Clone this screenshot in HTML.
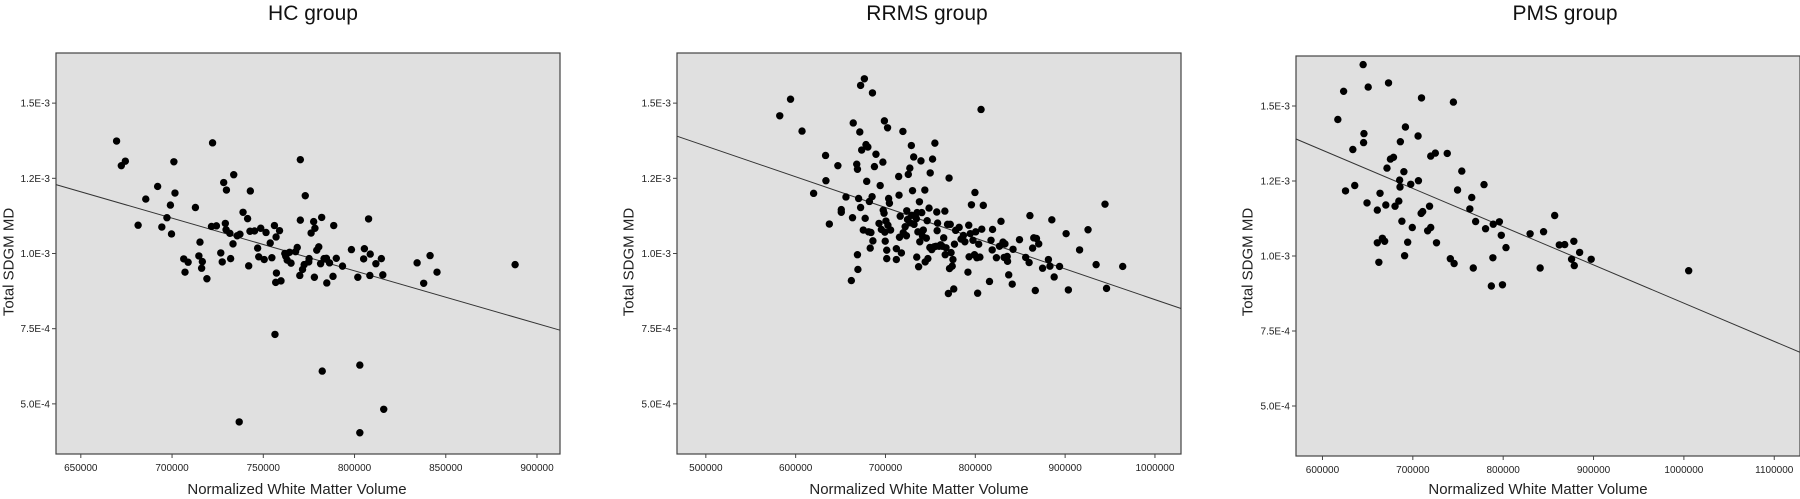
<!DOCTYPE html>
<html><head><meta charset="utf-8"><style>
html,body{margin:0;padding:0;background:#fff;}
svg{display:block;font-family:"Liberation Sans",sans-serif;}
</style></head><body>
<svg id="chart" width="1800" height="499" viewBox="0 0 1800 499" xmlns="http://www.w3.org/2000/svg"></svg>
<script>
// y values in units of 1e-4, x values in thousands
const yTickValues = [15, 12.5, 10, 7.5, 5];
const yTickLabels = ["1.5E-3", "1.2E-3", "1.0E-3", "7.5E-4", "5.0E-4"];
const titles = ["HC group", "RRMS group", "PMS group"];
const hcTicks = [650, 700, 750, 800, 850, 900];
const rrmsTicks = [500, 600, 700, 800, 900, 1000];
const pmsTicks = [600, 700, 800, 900, 1000, 1100];

const hcX = [669.6,672.2,674.4,681.4,685.6,692.1,694.4,697.2,699.1,699.7,701.0,701.6,706.4,707.1,708.8,712.8,714.7,715.3,716.2,716.6,719.1,721.6,722.2,724.3,726.7,727.5,728.3,729.2,729.6,729.8,731.7,732.1,733.4,733.8,735.7,736.8,737.2,738.9,741.4,742.0,742.9,742.7,745.2,746.9,747.5,748.6,750.5,751.5,753.8,754.7,756.1,756.4,757.0,757.2,756.8,758.9,759.7,761.8,762.3,763.1,764.4,765.2,767.7,768.6,770.0,770.3,770.3,771.5,772.4,773.0,774.9,775.1,776.2,777.6,778.0,778.3,779.3,780.4,781.4,782.0,782.3,783.3,784.6,784.8,786.3,788.2,788.6,790.0,793.4,798.3,801.8,802.9,802.9,805.0,805.4,807.7,808.4,808.6,811.7,814.7,815.5,816.0,834.3,837.9,841.4,845.2,888.0];
const hcY = [13.74,12.92,13.07,10.94,11.81,12.23,10.88,11.19,11.61,10.65,13.05,12.01,9.82,9.38,9.71,11.53,9.92,10.38,9.51,9.73,9.16,10.90,13.68,10.92,10.02,9.72,12.36,11.0,10.79,12.11,10.67,9.83,10.32,12.62,10.59,4.40,10.64,11.37,11.16,9.59,12.08,10.74,10.75,10.18,9.89,10.84,9.80,10.70,10.35,9.86,10.93,7.31,10.55,9.35,9.04,10.76,9.09,10.0,9.91,9.78,10.04,9.68,10.06,10.20,9.27,11.11,13.12,9.47,9.63,11.92,9.72,9.83,10.68,11.06,9.21,10.84,10.11,10.22,9.66,11.20,6.09,9.83,9.84,9.02,9.69,9.24,10.93,9.84,9.58,10.13,9.21,6.29,4.04,9.82,10.16,11.15,9.27,9.98,9.66,9.83,9.29,4.82,9.69,9.01,9.93,9.38,9.63];

const rrmsX = [582.3,594.3,607.1,620.0,633.3,633.7,637.5,647.0,650.8,650.8,656.0,662.0,663.3,664.1,668.0,668.8,668.8,669.3,670.1,671.4,672.3,672.3,673.5,675.3,676.5,677.4,678.3,679.1,680.4,681.2,682.1,683.0,683.8,685.1,685.5,686.0,687.7,689.4,692.8,694.1,695.4,697.1,697.5,698.4,698.8,699.3,699.7,700.5,701.4,701.4,702.3,702.7,703.5,704.4,705.7,712.1,712.1,714.7,715.1,715.6,716.4,717.7,719.4,719.8,721.9,723.3,723.7,724.5,725.4,727.1,727.5,728.8,729.2,730.1,731.4,731.8,734.4,734.8,735.2,736.1,736.9,737.8,738.2,739.5,740.4,741.2,742.1,743.8,744.2,745.5,746.4,747.2,748.5,749.4,749.8,751.5,752.4,754.1,755.0,756.2,757.1,757.5,758.0,759.7,761.4,763.1,764.8,766.1,766.5,767.4,769.1,770.0,770.8,771.3,772.1,773.0,774.3,775.1,776.0,776.8,778.1,782.0,784.1,786.7,788.4,791.8,792.7,793.1,794.4,795.7,797.4,799.1,799.6,800.4,801.7,802.6,803.8,805.1,806.4,807.2,808.9,815.8,817.5,818.8,819.2,823.5,826.9,828.6,830.8,832.1,833.0,835.5,835.9,837.2,841.1,842.0,849.2,856.1,859.9,860.8,863.8,865.1,866.8,868.1,870.6,874.9,881.4,883.1,885.2,887.8,893.8,901.1,903.6,916.1,925.5,934.5,944.4,946.1,964.1];
const rrmsY = [14.58,15.13,14.07,12.0,13.26,12.42,10.98,12.92,11.46,11.37,11.88,9.10,11.19,14.34,12.97,12.80,9.96,9.47,11.83,14.04,15.59,11.53,13.44,10.78,15.81,11.17,13.62,12.40,13.54,10.72,11.73,10.18,10.70,11.89,15.34,10.42,12.89,13.30,11.0,12.26,10.8,13.04,11.44,11.34,14.41,10.71,10.41,11.08,10.11,9.83,14.18,10.94,11.83,11.67,10.78,10.16,9.80,12.56,11.94,10.54,11.24,10.02,14.06,10.69,10.89,10.59,11.42,11.13,12.63,12.84,11.02,13.59,11.27,12.09,13.21,10.97,11.16,9.88,11.36,10.72,9.56,11.72,10.39,13.08,11.36,10.58,10.78,12.11,9.72,10.51,11.09,9.83,11.51,10.2,12.68,10.13,13.14,10.22,13.67,10.24,11.38,10.76,11.01,10.24,10.29,10.24,10.52,11.41,9.96,10.19,10.97,8.67,12.51,9.5,10.97,10.03,9.58,9.80,8.82,10.31,10.77,10.87,10.48,10.6,10.39,9.38,10.94,9.89,10.66,11.62,10.44,9.96,12.03,10.72,9.86,8.68,10.31,9.88,14.79,10.81,11.6,9.07,10.44,10.12,10.8,9.86,10.24,11.07,10.38,9.87,10.32,9.9,9.74,9.29,8.98,10.14,10.46,9.87,9.70,11.26,10.18,10.52,8.77,10.5,10.32,9.51,9.8,9.58,11.12,9.22,9.57,10.66,8.79,10.12,10.79,9.63,11.64,8.84,9.57];

const pmsX = [617.0,623.4,625.5,633.6,635.7,645.0,645.5,645.9,649.3,650.6,660.7,660.7,662.4,663.7,666.3,668.8,670.1,671.4,673.1,675.2,678.6,680.3,684.5,685.4,685.8,686.2,687.9,690.1,690.9,691.8,694.3,697.7,699.4,705.8,706.2,709.2,709.6,710.9,716.4,718.5,719.8,719.8,724.9,726.2,738.1,741.5,744.9,745.7,749.5,754.2,763.1,765.2,766.9,769.5,778.8,780.5,786.9,788.6,789.0,795.8,797.9,799.2,803.1,829.8,840.9,844.7,857.0,862.1,868.1,875.7,878.2,878.7,884.6,897.4,1005.3];
const pmsY = [14.55,15.49,12.17,13.55,12.35,16.38,13.78,14.08,11.77,15.63,11.53,10.44,9.79,12.09,10.59,10.49,11.70,12.93,15.77,13.23,13.29,11.66,11.83,12.53,12.30,13.81,11.16,12.81,10.01,14.30,10.46,12.39,10.95,14.0,12.51,11.42,15.27,11.48,10.84,11.66,10.95,13.33,13.43,10.44,13.42,9.91,15.13,9.75,12.20,12.83,11.57,11.95,9.60,11.15,12.38,10.91,9.0,9.94,11.06,11.14,10.69,9.04,10.28,10.74,9.60,10.81,11.35,10.37,10.38,9.89,10.49,9.68,10.12,9.89,9.51];

// regression lines: endpoints [x0,x1], [y0,y1]
const hcFitX = [636.4, 912.6], hcFitY = [12.29, 7.45];
const rrmsFitX = [467.9, 1029.0], rrmsFitY = [13.90, 8.17];
const pmsFitX = [570.7, 1128.5], pmsFitY = [13.90, 6.79];

const panels = [
  {key:"hc", title:titles[0], l:56, r:560, t:53, b:454, xd:[636.4,912.6], ticks:hcTicks, xs:hcX, ys:hcY, fx:hcFitX, fy:hcFitY, tx:313, yl:9, xtc:297},
  {key:"rrms", title:titles[1], l:677, r:1181, t:53, b:454, xd:[467.9,1029.0], ticks:rrmsTicks, xs:rrmsX, ys:rrmsY, fx:rrmsFitX, fy:rrmsFitY, tx:927, yl:629, xtc:919},
  {key:"pms", title:titles[2], l:1296, r:1800, t:56, b:456, xd:[570.7,1128.5], ticks:pmsTicks, xs:pmsX, ys:pmsY, fx:pmsFitX, fy:pmsFitY, tx:1565, yl:1248, xtc:1538}
];
const yDomain = [3.333, 16.667];
const NS = "http://www.w3.org/2000/svg";
const svg = document.getElementById("chart");
function mk(tag, attrs, parent, text){
  const e = document.createElementNS(NS, tag);
  for (const k in attrs) e.setAttribute(k, attrs[k]);
  if (text !== undefined) e.textContent = text;
  parent.appendChild(e);
  return e;
}
panels.forEach(p => {
  const xs = v => p.l + (v - p.xd[0]) / (p.xd[1] - p.xd[0]) * (p.r - p.l);
  const ys = v => p.b - (v - yDomain[0]) / (yDomain[1] - yDomain[0]) * (p.b - p.t);
  const g = mk("g", {}, svg);
  
  
  const title = mk("text", {x:p.tx, y:20, "font-size":21, "text-anchor":"middle", fill:"#111"}, g, p.title);
  
  
  const bg = mk("rect", {x:p.l, y:p.t, width:p.r-p.l, height:p.b-p.t, fill:"#e0e0e0", stroke:"#444", "stroke-width":1.2}, g);
  
  
  yTickValues.forEach((v, i) => {
    const y = ys(v);
    const tk = mk("line", {x1:p.l-4, x2:p.l, y1:y, y2:y, stroke:"#444"}, g);
    
    
    const lb = mk("text", {x:p.l-6, y:y+3.5, "font-size":10, "text-anchor":"end", fill:"#222"}, g, yTickLabels[i]);
    
    
  });
  p.ticks.forEach(v => {
    const x = xs(v);
    const tk = mk("line", {x1:x, x2:x, y1:p.b, y2:p.b+4, stroke:"#444"}, g);
    
    
    const lb = mk("text", {x:x, y:p.b+17, "font-size":10, "text-anchor":"middle", fill:"#222"}, g, String(v*1000));
    
    
  });
  const xt = mk("text", {x:p.xtc, y:494, "font-size":15, "text-anchor":"middle", fill:"#222"}, g, "Normalized White Matter Volume");
  
  
  const yc = 262;
  const yt = mk("text", {x:p.yl, y:yc, "font-size":15, "text-anchor":"middle", fill:"#222", "dominant-baseline":"central", transform:`rotate(-90 ${p.yl} ${yc})`}, g, "Total SDGM MD");
  
  
  const fit = mk("line", {x1:xs(p.fx[0]), y1:ys(p.fy[0]), x2:xs(p.fx[1]), y2:ys(p.fy[1]), stroke:"#333", "stroke-width":1}, g);
  
  
  p.xs.forEach((xv, i) => {
    const c = mk("circle", {cx:xs(xv), cy:ys(p.ys[i]), r:3.7, fill:"#000"}, g);
    
    
  });
});
</script>
</body></html>
